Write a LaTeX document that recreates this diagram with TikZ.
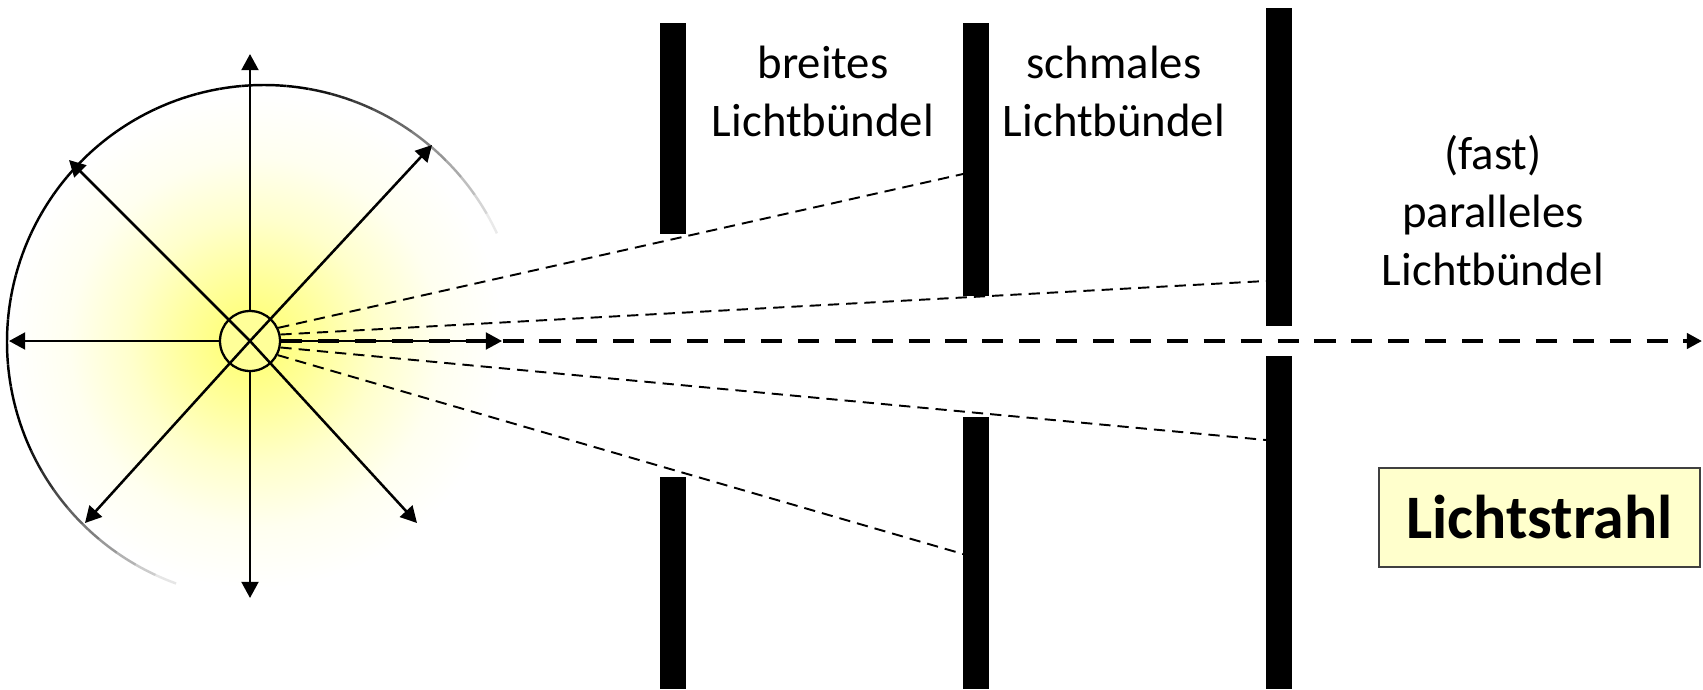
\documentclass[tikz,border=0pt]{standalone}
\usepackage{fontspec}
\setmainfont{Carlito}
\usepackage{tikz}
\usetikzlibrary{arrows.meta}
\definecolor{lightyellow}{HTML}{FFFFCC}
\definecolor{bulbyellow}{HTML}{FFFF99}
\definecolor{boxgray}{HTML}{404040}
\pgfdeclareradialshading{glow}{\pgfpoint{-1.4bp}{0bp}}{color(0bp)=(yellow!58!white); color(6bp)=(yellow!40!white); color(12bp)=(yellow!20!white); color(18bp)=(yellow!6!white); color(24bp)=(white); color(50bp)=(white)}

\begin{document}
\begin{tikzpicture}[>={Triangle[length=4.6pt,width=4.8pt]},
    ray/.style={line width=0.72pt, ->},
    beam/.style={line width=0.55pt, dash pattern=on 3.2pt off 2pt},
    slit/.style={fill=black},
    note/.style={align=center, inner sep=0pt, font=\fontsize{13.3}{16.5}\selectfont}]

        \useasboundingbox (0,0) rectangle (17.03,6.89);

        % Glow
        \shade[shading=glow] (2.64,3.47) circle (2.57);

        % Glow outline, fading out
        \foreach \a in {10,15,...,250}{
            \pgfmathsetmacro\op{max(0,min(1,(\a-20)/60,(250-\a)/50))}
            \draw[line width=0.7pt, opacity=\op] (2.64,3.47) ++(\a:2.57) arc[start angle=\a, end angle=\a+5, radius=2.57];
        }

        % Light source
        \node[circle, draw, line width=0.65pt, fill=bulbyellow, minimum size=0.6cm, inner sep=0pt] (S) at (2.50,3.48) {};

        % Arrow tips
        \coordinate (up) at (2.50,6.35);
        \coordinate (down) at (2.50,0.91);
        \coordinate (left) at (0.09,3.48);
        \coordinate (ul) at (0.69,5.29);
        \coordinate (ur) at (4.32,5.44);
        \coordinate (ll) at (0.85,1.66);
        \coordinate (lr) at (4.17,1.66);
        \coordinate (mid) at (5.02,3.48);
        \coordinate (beamend) at (17.02,3.48);

        % Light in all directions
        \draw[ray] (S.north) -- (up);
        \draw[ray] (S.south) -- (down);
        \draw[ray] (S.west) -- (left);
        \draw[ray] (S.center) -- (ul);
        \draw[ray] (S.center) -- (ur);
        \draw[ray] (S.center) -- (ll);
        \draw[ray] (S.center) -- (lr);

        % Axis
        \draw[line width=1.4pt, dash pattern=on 6pt off 4.5pt, -{Triangle[length=4.3pt,width=4.3pt]}] (S.east) -- (beamend);
        \draw[ray] (S.east) -- (mid);

        % Slits
        \fill[slit] (6.60,6.66) rectangle (6.86,4.55);
        \fill[slit] (6.60,2.12) rectangle (6.86,0);
        \fill[slit] (9.63,6.66) rectangle (9.89,3.93);
        \fill[slit] (9.63,2.72) rectangle (9.89,0);
        \fill[slit] (12.66,6.81) rectangle (12.92,3.63);
        \fill[slit] (12.66,3.33) rectangle (12.92,0);

        % Edge rays
        \coordinate (r1) at (9.63,5.15);
        \coordinate (r2) at (12.66,4.08);
        \coordinate (r3) at (12.66,2.49);
        \coordinate (r4) at (9.63,1.35);
        \draw[beam] (S.25) -- (r1);
        \draw[beam] (S.12) -- (r2);
        \draw[beam] (S.-12) -- (r3);
        \draw[beam] (S.-27) -- (r4);

        % Labels
        \node[note, anchor=base] (wide) at (8.23,5.53) {breites\\Lichtbündel};
        \node[note, anchor=base] (narrow) at (11.14,5.53) {schmales\\Lichtbündel};
        \node[note, anchor=base] (parallel) at (14.93,4.04) {(fast)\\paralleles\\Lichtbündel};

        \node[draw=boxgray, fill=lightyellow, line width=0.45pt, minimum width=3.21cm, minimum height=0.99cm, font=\fontsize{17.6}{21}\selectfont\bfseries] (strahl) at (15.395,1.715) {Lichtstrahl};
\end{tikzpicture}
\end{document}
